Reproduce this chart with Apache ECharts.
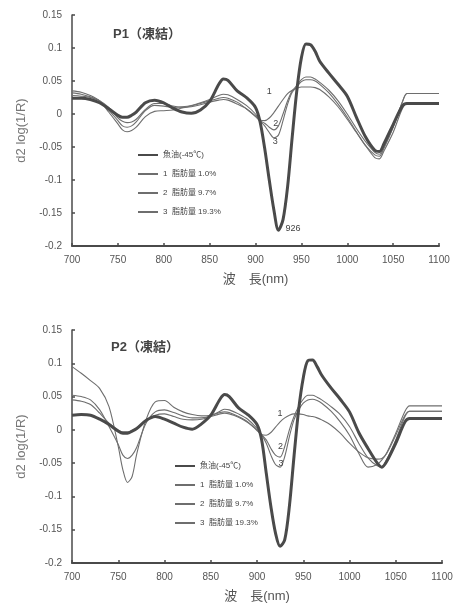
<!DOCTYPE html>
<html>
<head>
<meta charset="utf-8">
<script src="https://cdn.jsdelivr.net/npm/echarts@6/dist/echarts.min.js"></script>
<style>
  html, body { margin: 0; padding: 0; background: #fff; }
  #chart { width: 456px; height: 607px; }
</style>
</head>
<body>
<div id="chart"></div>
<script>
// 波長 (nm)
const wavelengths = [700, 710, 720, 730, 740, 750, 755, 760, 765, 770, 780, 790, 800, 810, 820, 830, 840, 850, 860, 865, 870, 880, 890, 900, 905, 910, 915, 920, 925, 930, 935, 940, 945, 950, 955, 960, 965, 970, 980, 990, 1000, 1010, 1020, 1030, 1035, 1040, 1050, 1060, 1065, 1070, 1080, 1090, 1100];

const seriesNames = ['魚油(-45℃)', '1  脂肪量 1.0%', '2  脂肪量 9.7%', '3  脂肪量 19.3%'];

// P1 (凍結)
const p1Fish = [0.024, 0.024, 0.022, 0.017, 0.008, -0.002, -0.005, -0.005, -0.002, 0.003, 0.017, 0.021, 0.017, 0.009, 0.003, 0.001, 0.006, 0.019, 0.045, 0.053, 0.051, 0.035, 0.025, 0.010, -0.012, -0.052, -0.100, -0.145, -0.176, -0.160, -0.110, -0.035, 0.035, 0.085, 0.106, 0.105, 0.095, 0.080, 0.062, 0.045, 0.027, -0.005, -0.035, -0.055, -0.057, -0.045, -0.016, 0.012, 0.016, 0.016, 0.016, 0.016, 0.016];
const p1Fat1 = [0.028, 0.027, 0.025, 0.020, 0.010, -0.006, -0.011, -0.013, -0.012, -0.008, 0.007, 0.016, 0.016, 0.012, 0.010, 0.011, 0.014, 0.018, 0.021, 0.022, 0.021, 0.015, 0.008, -0.003, -0.009, -0.010, -0.006, 0.002, 0.012, 0.022, 0.031, 0.036, 0.039, 0.041, 0.041, 0.041, 0.040, 0.037, 0.026, 0.011, -0.008, -0.028, -0.048, -0.062, -0.064, -0.052, -0.020, 0.018, 0.031, 0.031, 0.031, 0.031, 0.031];
const p1Fat2 = [0.032, 0.030, 0.026, 0.020, 0.006, -0.010, -0.018, -0.020, -0.018, -0.012, 0.005, 0.013, 0.012, 0.010, 0.011, 0.013, 0.017, 0.022, 0.028, 0.030, 0.029, 0.022, 0.013, 0.000, -0.010, -0.014, -0.020, -0.024, -0.018, 0.000, 0.020, 0.035, 0.043, 0.052, 0.056, 0.056, 0.053, 0.048, 0.036, 0.020, 0.000, -0.022, -0.042, -0.058, -0.061, -0.050, -0.020, 0.018, 0.031, 0.031, 0.031, 0.031, 0.031];
const p1Fat3 = [0.035, 0.033, 0.028, 0.020, 0.003, -0.015, -0.024, -0.027, -0.025, -0.020, -0.004, 0.004, 0.005, 0.006, 0.009, 0.012, 0.016, 0.020, 0.024, 0.025, 0.024, 0.018, 0.008, -0.004, -0.011, -0.018, -0.028, -0.036, -0.032, -0.010, 0.015, 0.033, 0.041, 0.049, 0.052, 0.052, 0.050, 0.045, 0.032, 0.015, -0.005, -0.027, -0.048, -0.066, -0.068, -0.056, -0.028, 0.008, 0.016, 0.016, 0.016, 0.016, 0.016];

// P2 (凍結)
const p2Fish = [0.022, 0.023, 0.022, 0.016, 0.008, -0.002, -0.005, -0.005, -0.002, 0.002, 0.014, 0.020, 0.016, 0.010, 0.004, 0.001, 0.009, 0.022, 0.046, 0.053, 0.050, 0.033, 0.023, 0.008, -0.015, -0.065, -0.115, -0.155, -0.175, -0.165, -0.115, -0.040, 0.030, 0.078, 0.104, 0.105, 0.095, 0.082, 0.063, 0.046, 0.027, -0.004, -0.028, -0.050, -0.056, -0.048, -0.020, 0.012, 0.017, 0.017, 0.017, 0.017, 0.017];
const p2Fat1 = [0.045, 0.043, 0.038, 0.025, 0.010, 0.000, -0.003, -0.003, -0.001, 0.003, 0.014, 0.022, 0.024, 0.020, 0.016, 0.015, 0.016, 0.020, 0.024, 0.025, 0.024, 0.019, 0.011, 0.000, -0.007, -0.008, -0.004, 0.004, 0.012, 0.018, 0.022, 0.024, 0.024, 0.023, 0.021, 0.020, 0.018, 0.015, 0.007, -0.005, -0.020, -0.033, -0.042, -0.044, -0.043, -0.036, -0.008, 0.022, 0.028, 0.028, 0.028, 0.028, 0.028];
const p2Fat2 = [0.052, 0.050, 0.045, 0.030, 0.005, -0.022, -0.038, -0.043, -0.038, -0.026, 0.010, 0.027, 0.030, 0.026, 0.021, 0.018, 0.018, 0.021, 0.028, 0.031, 0.030, 0.024, 0.016, 0.002, -0.007, -0.015, -0.028, -0.038, -0.041, -0.025, 0.000, 0.020, 0.035, 0.046, 0.052, 0.052, 0.049, 0.045, 0.035, 0.023, 0.005, -0.020, -0.042, -0.054, -0.055, -0.045, -0.015, 0.020, 0.028, 0.028, 0.028, 0.028, 0.028];
const p2Fat3 = [0.095, 0.085, 0.074, 0.062, 0.035, -0.025, -0.060, -0.079, -0.070, -0.036, 0.015, 0.042, 0.044, 0.034, 0.027, 0.023, 0.021, 0.022, 0.026, 0.027, 0.026, 0.020, 0.012, -0.001, -0.008, -0.020, -0.038, -0.052, -0.056, -0.040, -0.010, 0.015, 0.030, 0.040, 0.045, 0.046, 0.044, 0.040, 0.028, 0.012, -0.008, -0.035, -0.056, -0.052, -0.045, -0.035, -0.005, 0.028, 0.036, 0.036, 0.036, 0.036, 0.036];

// 曲線番号の注記 [波長, 値, 文字]
const p1Notes = [[915, 0.034, '1'], [922, -0.015, '2'], [921.5, -0.042, '3'], [941, -0.174, '926']];
const p2Notes = [[925, 0.024, '1'], [925.5, -0.025, '2'], [926, -0.051, '3']];

const xTicks = { min: 700, max: 1100, interval: 50 };
const yTicks = { min: -0.2, max: 0.15, interval: 0.05 };

const chart = echarts.init(document.getElementById('chart'));
const font = 'Liberation Sans, Noto Sans CJK JP, sans-serif';
const axisColor = '#4a4a4a';

function pairs(values) {
  return wavelengths.map((w, i) => [w, values[i]]);
}

function makeAxes(gridIndex) {
  const x = {
    type: 'value', gridIndex: gridIndex,
    min: xTicks.min, max: xTicks.max, interval: xTicks.interval,
    name: '波\u3000長(nm)', nameLocation: 'middle', nameGap: 27,
    nameTextStyle: { fontFamily: font, fontSize: 13, color: '#555' },
    axisLine: { onZero: false, lineStyle: { color: axisColor, width: 2 } },
    axisTick: { inside: true, length: 3, lineStyle: { color: axisColor, width: 1.5 } },
    axisLabel: { fontFamily: font, fontSize: 10, color: '#555', margin: 9,
      formatter: v => String(v) },
    splitLine: { show: false }
  };
  const y = {
    type: 'value', gridIndex: gridIndex,
    min: yTicks.min, max: yTicks.max, interval: yTicks.interval,
    name: 'd2 log(1/R)', nameLocation: 'middle', nameGap: 44,
    nameTextStyle: { fontFamily: font, fontSize: 13, color: '#777' },
    axisLine: { show: true, lineStyle: { color: axisColor, width: 1.5 } },
    axisTick: { show: true, inside: true, length: 3, lineStyle: { color: axisColor, width: 1.5 } },
    axisLabel: { fontFamily: font, fontSize: 10, color: '#555', margin: 10 },
    splitLine: { show: false }
  };
  return [x, y];
}

function notePoints(notes) {
  return {
    symbol: 'circle', symbolSize: 0,
    label: { show: true, position: 'inside', fontFamily: font, fontSize: 9, color: '#444',
      formatter: p => p.name },
    data: notes.map(n => ({ name: n[2], coord: [n[0], n[1]] }))
  };
}

function makeSeries(gridIndex, sets, notes) {
  return sets.map((vals, i) => {
    const s = {
      name: seriesNames[i], type: 'line',
      xAxisIndex: gridIndex, yAxisIndex: gridIndex,
      data: pairs(vals), symbol: 'none', smooth: 0.3, silent: true,
      lineStyle: i === 0 ? { color: '#4a4a4a', width: 3 } : { color: '#6e6e6e', width: 1.1 },
      itemStyle: { color: i === 0 ? '#4a4a4a' : '#6e6e6e' },
      z: i === 0 ? 3 : 2
    };
    if (i === 0) s.markPoint = notePoints(notes);
    return s;
  });
}

const a1 = makeAxes(0);
const a2 = makeAxes(1);

const legendBase = {
  orient: 'vertical', itemWidth: 20, itemHeight: 10, itemGap: 11, itemStyle: { opacity: 0 },
  selectedMode: false, data: seriesNames,
  textStyle: { fontFamily: font, fontSize: 8, color: '#444' }
};

const option = {
  backgroundColor: '#fff',
  animation: false,
  title: [
    { text: 'P1（凍結）', left: 108, top: 23,
      textStyle: { fontFamily: font, fontSize: 13, fontWeight: 'bold', color: '#444' } },
    { text: 'P2（凍結）', left: 106, top: 336,
      textStyle: { fontFamily: font, fontSize: 13, fontWeight: 'bold', color: '#444' } }
  ],
  legend: [
    Object.assign({}, legendBase, { left: 132, top: 146 }),
    Object.assign({}, legendBase, { left: 169, top: 457 })
  ],
  grid: [
    { left: 72, top: 15, width: 367, height: 231 },
    { left: 72, top: 330, width: 370, height: 233 }
  ],
  xAxis: [a1[0], a2[0]],
  yAxis: [a1[1], a2[1]],
  series: makeSeries(0, [p1Fish, p1Fat1, p1Fat2, p1Fat3], p1Notes)
    .concat(makeSeries(1, [p2Fish, p2Fat1, p2Fat2, p2Fat3], p2Notes))
};

chart.setOption(option);
</script>
</body>
</html>
